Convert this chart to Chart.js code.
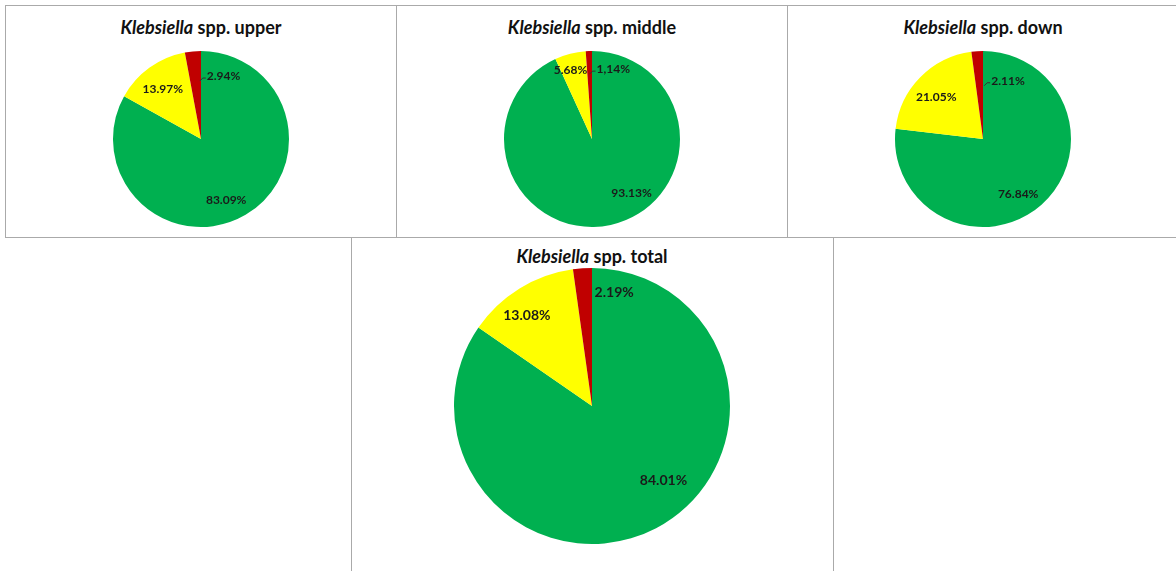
<!DOCTYPE html>
<html lang="en">
<head>
    <meta charset="UTF-8">
    <title>Klebsiella spp.</title>
    <script src="https://cdn.jsdelivr.net/npm/chart.js@4.4.1/dist/chart.umd.min.js"></script>
    <style>
        html, body { margin: 0; padding: 0; background: #fff; overflow: hidden; }
        body { width: 1176px; height: 571px; position: relative; font-family: Lato, "Open Sans", sans-serif; }
        .panel { position: absolute; border: 1px solid #aaaaaa; box-sizing: border-box; }
        .titulo { position: absolute; width: 300px; text-align: center; font-weight: bold; font-size: 18px; line-height: 20px; color: #111; }
        canvas { position: absolute; }
    </style>
</head>
<body>
    <div class="panel" style="left:5px;top:5px;width:392px;height:233px"></div>
    <div class="panel" style="left:396px;top:5px;width:392px;height:233px"></div>
    <div class="panel" style="left:787px;top:5px;width:420px;height:233px"></div>
    <div class="panel" style="left:351px;top:237px;width:483px;height:360px"></div>

    <div class="titulo" style="left:51px;top:17px"><i>Klebsiella</i> spp. upper</div>
    <div class="titulo" style="left:442px;top:17px"><i>Klebsiella</i> spp. middle</div>
    <div class="titulo" style="left:833px;top:17px"><i>Klebsiella</i> spp. down</div>
    <div class="titulo" style="left:442px;top:246px"><i>Klebsiella</i> spp. total</div>

    <canvas id="graficoUpper" width="180" height="180" style="left:111px;top:49px"></canvas>
    <canvas id="graficoMiddle" width="180" height="180" style="left:502px;top:49px"></canvas>
    <canvas id="graficoDown" width="180" height="180" style="left:893px;top:49px"></canvas>
    <canvas id="graficoTotal" width="280" height="280" style="left:452px;top:266px"></canvas>

    <script>
        // categorias (verde, amarelo, vermelho)
        const categorias = ['Verde', 'Amarelo', 'Vermelho'];

        const valoresUpper = [83.09, 13.97, 2.94];
        const valoresMiddle = [93.13, 5.68, 1.14];
        const valoresDown = [76.84, 21.05, 2.11];
        const valoresTotal = [84.01, 13.08, 2.19];

        const rotulosUpper = ['83.09%', '13.97%', '2.94%'];
        const rotulosMiddle = ['93.13%', '5.68%', '1,14%'];
        const rotulosDown = ['76.84%', '21.05%', '2.11%'];
        const rotulosTotal = ['84.01%', '13.08%', '2.19%'];

        const cores = ['#00b050', '#ffff00', '#c00000'];

        // desenha os rótulos de cada fatia a partir da geometria do arco
        const rotulosPlugin = {
            id: 'rotulos',
            afterDatasetsDraw(chart, args, opts) {
                const ctx = chart.ctx;
                const meta = chart.getDatasetMeta(0);
                ctx.save();
                ctx.font = 'bold ' + opts.tamanho + 'px Lato, "Open Sans", sans-serif';
                ctx.fillStyle = '#1a1a1a';
                ctx.textAlign = 'center';
                ctx.textBaseline = 'middle';
                meta.data.forEach((arco, i) => {
                    const p = arco.getProps(['x', 'y', 'startAngle', 'endAngle', 'outerRadius'], true);
                    const ang = (p.startAngle + p.endAngle) / 2 + opts.desvios[i] * Math.PI / 180;
                    const r = p.outerRadius * opts.distancias[i];
                    const lx = p.x + Math.cos(ang) * r;
                    const ly = p.y + Math.sin(ang) * r;
                    const texto = opts.textos[i];
                    ctx.fillText(texto, lx, ly);
                    if (opts.guia && i === 2) {
                        const w = ctx.measureText(texto).width;
                        ctx.strokeStyle = '#333';
                        ctx.lineWidth = 1;
                        ctx.beginPath();
                        ctx.moveTo(lx - w / 2 - 7, ly + 5);
                        ctx.lineTo(lx - w / 2 - 4, ly + 2);
                        ctx.lineTo(lx - w / 2 - 1, ly + 2);
                        ctx.stroke();
                    }
                });
                ctx.restore();
            }
        };

        function criarPizza(id, valores, textos, desvios, distancias, tamanho, guia) {
            return new Chart(document.getElementById(id).getContext('2d'), {
                type: 'pie',
                data: {
                    labels: categorias,
                    datasets: [{
                        data: valores,
                        backgroundColor: cores,
                        borderWidth: 0
                    }]
                },
                options: {
                    responsive: false,
                    animation: false,
                    layout: { padding: 2 },
                    plugins: {
                        legend: { display: false },
                        tooltip: { enabled: false },
                        rotulos: { textos: textos, desvios: desvios, distancias: distancias, tamanho: tamanho, guia: guia }
                    }
                },
                plugins: [rotulosPlugin]
            });
        }

        criarPizza('graficoUpper', valoresUpper, rotulosUpper, [8, -2, 25], [0.75, 0.71, 0.76], 12, true);
        criarPizza('graficoMiddle', valoresMiddle, rotulosMiddle, [-24, -3, 19], [0.76, 0.82, 0.83], 12, true);
        criarPizza('graficoDown', valoresDown, rotulosDown, [9, -3, 27], [0.74, 0.71, 0.72], 12, true);
        criarPizza('graficoTotal', valoresTotal, rotulosTotal, [-16, -4, 15], [0.75, 0.81, 0.84], 14, false);
    </script>
</body>
</html>
